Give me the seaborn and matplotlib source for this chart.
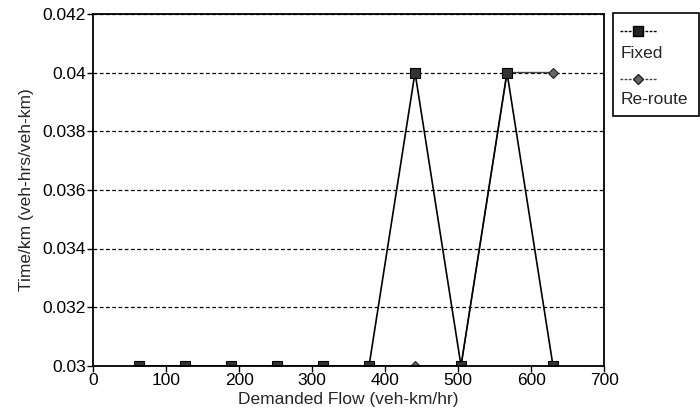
import numpy as np
import matplotlib
matplotlib.use("Agg")
import matplotlib.pyplot as plt
from matplotlib.lines import Line2D
from matplotlib.patches import Rectangle
import seaborn as sns

# data
flow = [63, 126, 189, 252, 315, 378, 441, 504, 567, 630]
fixed = [0.03, 0.03, 0.03, 0.03, 0.03, 0.03, 0.04, 0.03, 0.04, 0.03]
reroute = [0.03, 0.03, 0.03, 0.03, 0.03, 0.03, 0.03, 0.03, 0.04, 0.04]
series_names = ["Fixed", "Re-route"]
x_ticks = [0, 100, 200, 300, 400, 500, 600, 700]
y_ticks = [0.03, 0.032, 0.034, 0.036, 0.038, 0.04, 0.042]
y_tick_labels = ["0.03", "0.032", "0.034", "0.036", "0.038", "0.04", "0.042"]

sns.set_style("white")
plt.rcParams['font.family'] = ['Liberation Sans', 'DejaVu Sans']

fig = plt.figure(figsize=(7, 4.2), dpi=100)
ax = fig.add_axes([0.133, 0.129, 0.730, 0.838])

# horizontal dashed grid
ax.set_axisbelow(True)
ax.yaxis.grid(True, linestyle=(0, (3, 2)), color='black', linewidth=0.9)
ax.xaxis.grid(False)

sns.lineplot(x=flow, y=reroute, ax=ax, color='#444444', linewidth=1.0,
             marker='D', markersize=5, markerfacecolor='#666666',
             markeredgecolor='#222222', markeredgewidth=0.8)
sns.lineplot(x=flow, y=fixed, ax=ax, color='black', linewidth=1.2,
             marker='s', markersize=7, markerfacecolor='#333333',
             markeredgecolor='black', markeredgewidth=0.8)

ax.set_xlim(0, 700)
ax.set_ylim(0.03, 0.042)
ax.set_xticks(x_ticks)
ax.set_xticklabels([str(t) for t in x_ticks])
ax.set_yticks(y_ticks)
ax.set_yticklabels(y_tick_labels)
ax.tick_params(axis='both', direction='out', length=4, width=1, color='black',
               labelsize=12.5, labelcolor='black', pad=1, bottom=True, left=True)

for side in ['left', 'bottom', 'right', 'top']:
    ax.spines[side].set_visible(True)
    ax.spines[side].set_color('black')
    ax.spines[side].set_linewidth(1.3)

ax.set_xlabel("Demanded Flow (veh-km/hr)", fontsize=12.5, labelpad=3)
ax.set_ylabel("Time/km (veh-hrs/veh-km)", fontsize=12.5, labelpad=6)

# legend box with handle above each label
W, H = 700.0, 420.0
def fx(px):
    return px / W
def fy(py):
    return 1 - py / H

fig.patches.append(Rectangle((fx(613), fy(116)), fx(699) - fx(613), fy(13) - fy(116),
                             transform=fig.transFigure, fill=False,
                             edgecolor='black', linewidth=1.2))
fig.lines.append(Line2D([fx(620), fx(657)], [fy(31), fy(31)], transform=fig.transFigure,
                        color='black', linewidth=1.0, linestyle=(0, (2, 1))))
fig.lines.append(Line2D([fx(638)], [fy(31)], transform=fig.transFigure, marker='s',
                        markersize=7, markerfacecolor='#222222', markeredgecolor='black'))
fig.text(fx(621), fy(53), series_names[0], fontsize=12.5, va='center', ha='left')
fig.lines.append(Line2D([fx(620), fx(657)], [fy(79), fy(79)], transform=fig.transFigure,
                        color='#444444', linewidth=1.0, linestyle=(0, (2, 1))))
fig.lines.append(Line2D([fx(638)], [fy(79)], transform=fig.transFigure, marker='D',
                        markersize=5, markerfacecolor='#666666', markeredgecolor='#222222'))
fig.text(fx(621), fy(100), series_names[1], fontsize=12.5, va='center', ha='left')

fig.savefig("out.png", dpi=100)
